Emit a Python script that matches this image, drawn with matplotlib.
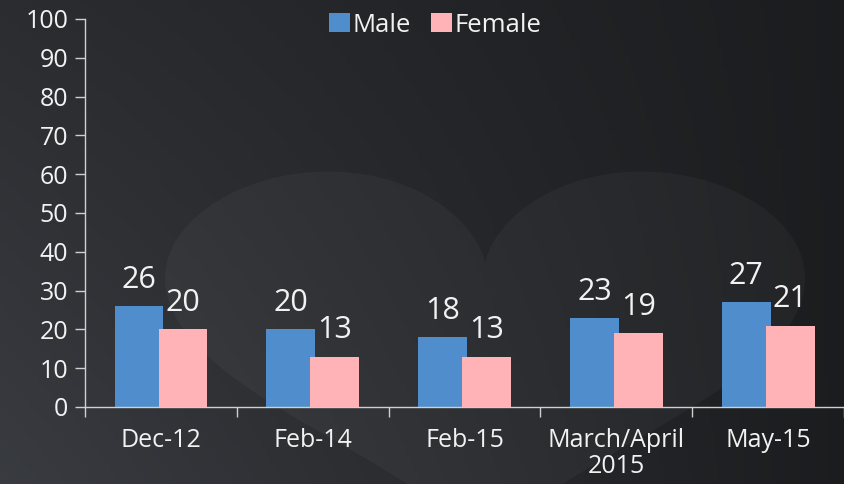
import numpy as np
import matplotlib.pyplot as plt
from matplotlib.patches import Polygon

# Data
categories = ['Dec-12', 'Feb-14', 'Feb-15', 'March/April\n2015', 'May-15']
male = [26, 20, 18, 23, 27]
female = [20, 13, 13, 19, 21]

male_color = '#4f8dcc'
female_color = '#ffb3b7'
text_color = '#f2f2f2'

plt.rcParams['font.family'] = ['Open Sans', 'DejaVu Sans']

fig = plt.figure(figsize=(8.45, 4.84), dpi=100)

# Background: dark gradient with a faint heart shape
bg = fig.add_axes([0, 0, 1, 1])
gx = np.linspace(0, 1, 200)
gy = np.linspace(0, 1, 120)
X, Y = np.meshgrid(gx, gy)
shade = 0.18 - 0.065 * X + 0.06 * Y * (1 - X)
img = np.dstack([shade * 0.93, shade * 0.97, shade * 1.05])
bg.imshow(np.clip(img, 0, 1), extent=[0, 845, 484, 0], aspect='auto')
t = np.linspace(0, 2 * np.pi, 400)
hx = 16 * np.sin(t) ** 3
hy = 13 * np.cos(t) - 5 * np.cos(2 * t) - 2 * np.cos(3 * t) - np.cos(4 * t)
heart = Polygon(np.column_stack([485 + 20 * hx, 265 - 13.5 * (hy - 5)]),
                closed=True, facecolor='#ffffff', alpha=0.035, edgecolor='none')
bg.add_patch(heart)
bg.set_xlim(0, 845)
bg.set_ylim(484, 0)
bg.axis('off')

ax = fig.add_axes([85 / 845, 1 - 407 / 484, 1 - 85 / 845 - 0.001, (407 - 19) / 484])
ax.patch.set_alpha(0)

x = np.arange(len(categories))
w = 0.32
off = 0.145
b1 = ax.bar(x - off, male, w, color=male_color, label='Male', zorder=2)
b2 = ax.bar(x + off, female, w, color=female_color, label='Female', zorder=3)

for rect, v in zip(b1, male):
    ax.annotate(str(v), (rect.get_x() + rect.get_width() / 2, v), xytext=(0, 8),
                textcoords='offset points', ha='center', va='bottom',
                color=text_color, fontsize=22)
for rect, v in zip(b2, female):
    ax.annotate(str(v), (rect.get_x() + rect.get_width() / 2, v), xytext=(0, 8),
                textcoords='offset points', ha='center', va='bottom',
                color=text_color, fontsize=22)

ax.set_xlim(-0.5, len(categories) - 0.5)
ax.set_ylim(0, 100)
ax.set_yticks(range(0, 101, 10))
ax.set_xticks(np.arange(len(categories) + 1) - 0.5)
ax.set_xticklabels([])
ax.set_xticks(x, minor=True)
ax.set_xticklabels(categories, minor=True, fontsize=18, color=text_color,
                   linespacing=1.05)
ax.tick_params(axis='x', which='minor', length=0, pad=15)
ax.tick_params(axis='x', which='major', length=7, color='#d0d0d0', width=1)
ax.tick_params(axis='y', length=7, color='#d0d0d0', width=1, labelsize=18,
               labelcolor=text_color, pad=5)

for s in ['top', 'right']:
    ax.spines[s].set_visible(False)
for s in ['left', 'bottom']:
    ax.spines[s].set_color('#d0d0d0')
    ax.spines[s].set_linewidth(1)

leg = fig.legend(handles=[b1, b2], loc='center', bbox_to_anchor=(435 / 845, 1 - 25 / 484),
                 ncol=2, frameon=False, fontsize=18.5, handlelength=0.8, handleheight=0.8,
                 handletextpad=0.1, columnspacing=0.8, labelcolor=text_color)

fig.savefig('out.png', dpi=100, facecolor='#24272c')
